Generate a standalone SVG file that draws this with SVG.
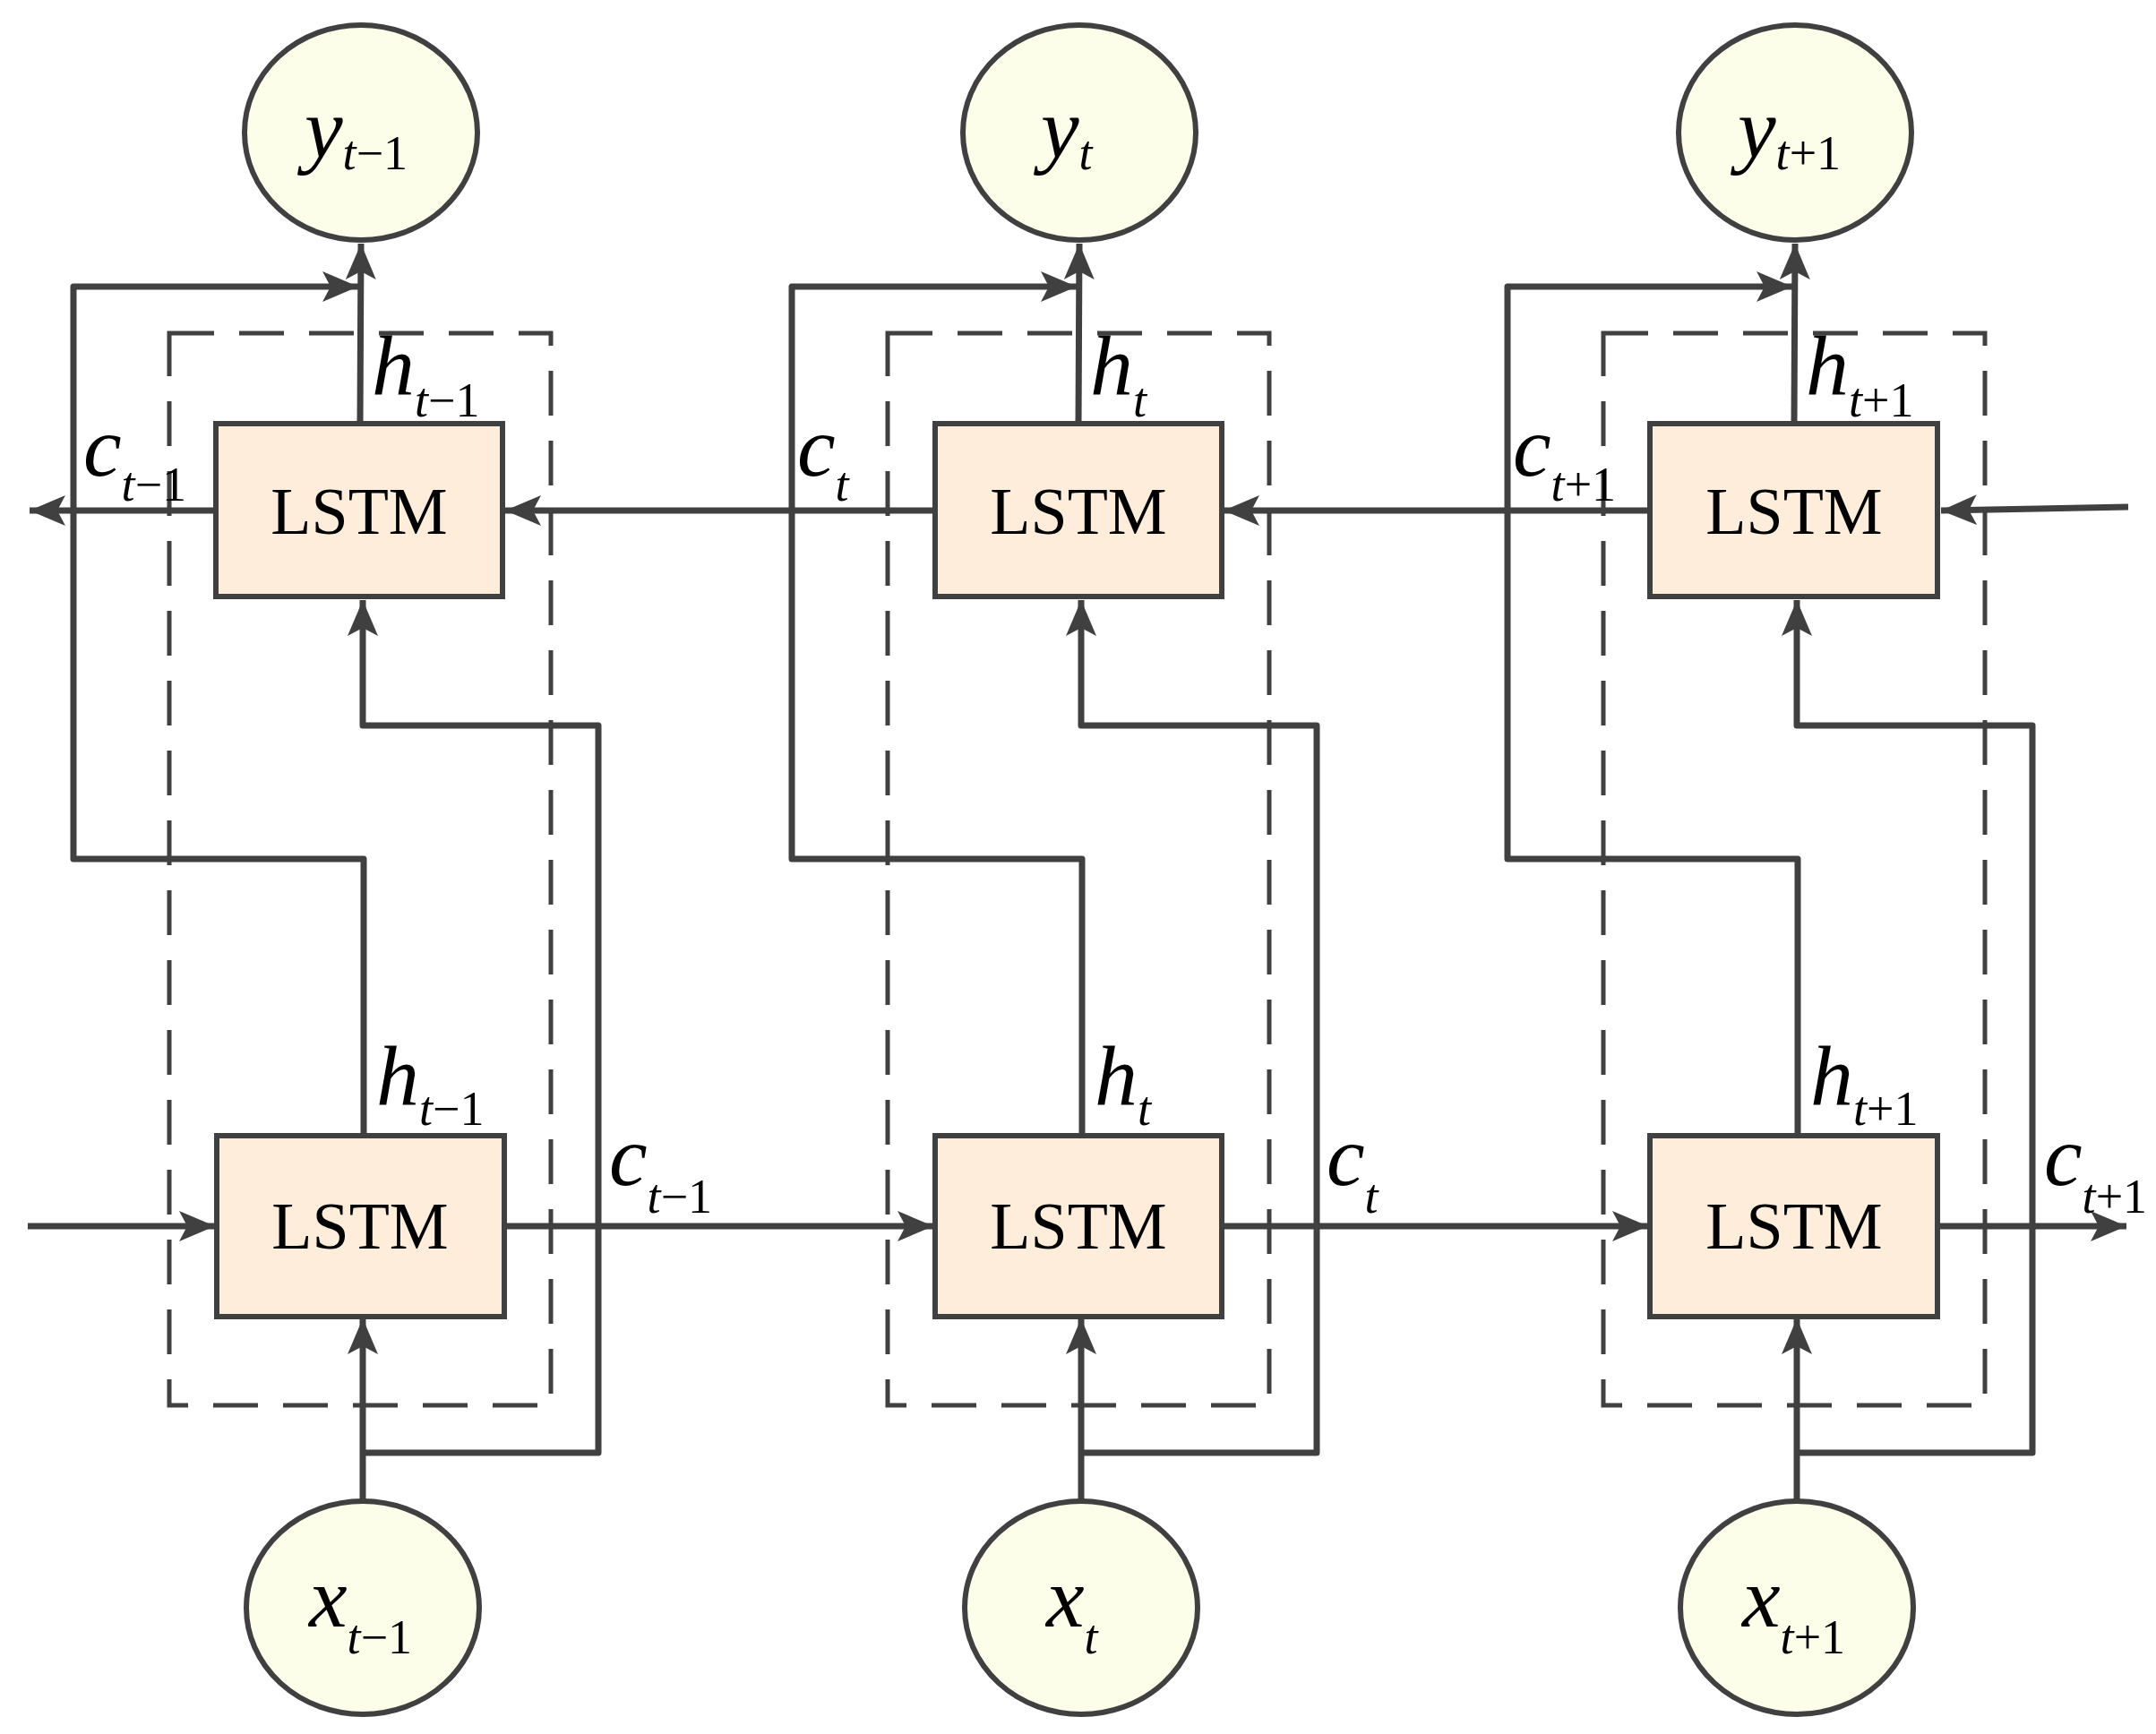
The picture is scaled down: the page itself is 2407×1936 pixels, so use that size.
<svg xmlns="http://www.w3.org/2000/svg" width="2407" height="1936" viewBox="0 0 2407 1936">
<style>
.c{fill:#fcfeea;stroke:#404040;stroke-width:6}
.b{fill:#feeddb;stroke:#404040;stroke-width:6}
.d{fill:none;stroke:#404040;stroke-width:5;stroke-dasharray:50 28}
.l{fill:none;stroke:#404040;stroke-width:7;stroke-linejoin:round}
.a{marker-end:url(#ar)}
text{font-family:"Liberation Serif","Times New Roman",serif;fill:#000}
.v{font-style:italic;font-size:96px}
.s{font-size:54px}
.i{font-style:italic}
.m{font-size:74px;text-anchor:middle}
</style>
<defs>
<marker id="ar" markerUnits="userSpaceOnUse" markerWidth="44" markerHeight="40" refX="40" refY="20" orient="auto">
<path d="M0,3 L40,20 L0,37 L9,20 Z" fill="#404040"/>
</marker>
</defs>
<g id="connectors">
<g id="col1">
<path class="l a" d="M402,473 L403,272"/>
<path class="l a" d="M406,1268 V959 H82 V320 H400"/>
<path class="l a" d="M405,1676 V1472"/>
<path class="l a" d="M405,1622 H668 V810 H405 V670"/>
</g>
<g id="col2" transform="translate(802,0)">
<path class="l a" d="M402,473 L403,272"/>
<path class="l a" d="M406,1268 V959 H82 V320 H400"/>
<path class="l a" d="M405,1676 V1472"/>
<path class="l a" d="M405,1622 H668 V810 H405 V670"/>
</g>
<g id="col3" transform="translate(1601,0)">
<path class="l a" d="M402,473 L403,272"/>
<path class="l a" d="M406,1268 V959 H82 V320 H400"/>
<path class="l a" d="M405,1676 V1472"/>
<path class="l a" d="M405,1622 H668 V810 H405 V670"/>
</g>
<path class="l a" d="M2376,566 L2167,570"/>
<path class="l a" d="M1842,570 H1366"/>
<path class="l a" d="M1044,570 H564"/>
<path class="l a" d="M241,570 H33"/>
<path class="l a" d="M31,1369 H240"/>
<path class="l a" d="M563,1369 H1042"/>
<path class="l a" d="M1365,1369 H1840"/>
<path class="l a" d="M2164,1369 H2374"/>
</g>
<g id="frames">
<rect class="d" x="189" y="372" width="426" height="1197"/>
<rect class="d" x="991" y="372" width="426" height="1197"/>
<rect class="d" x="1790" y="372" width="426" height="1197"/>
</g>
<g id="lstm-top-1"><rect class="b" x="241" y="473" width="320" height="193"/><text class="m" x="401" y="596">LSTM</text></g>
<g id="lstm-top-2"><rect class="b" x="1044" y="473" width="320" height="193"/><text class="m" x="1204" y="596">LSTM</text></g>
<g id="lstm-top-3"><rect class="b" x="1842" y="473" width="321" height="193"/><text class="m" x="2003" y="596">LSTM</text></g>
<g id="lstm-bot-1"><rect class="b" x="242" y="1268" width="321" height="202"/><text class="m" x="402" y="1394">LSTM</text></g>
<g id="lstm-bot-2"><rect class="b" x="1044" y="1268" width="320" height="202"/><text class="m" x="1204" y="1394">LSTM</text></g>
<g id="lstm-bot-3"><rect class="b" x="1842" y="1268" width="321" height="202"/><text class="m" x="2003" y="1394">LSTM</text></g>
<g id="y1"><ellipse class="c" cx="403" cy="148" rx="130" ry="120"/><text x="340" y="176"><tspan class="v">y</tspan><tspan class="s" dy="13"><tspan class="i">t</tspan>−1</tspan></text></g>
<g id="y2"><ellipse class="c" cx="1205" cy="148" rx="130" ry="120"/><text x="1162" y="176"><tspan class="v">y</tspan><tspan class="s i" dy="13">t</tspan></text></g>
<g id="y3"><ellipse class="c" cx="2004" cy="148" rx="130" ry="120"/><text x="1940" y="176"><tspan class="v">y</tspan><tspan class="s" dy="13"><tspan class="i">t</tspan>+1</tspan></text></g>
<g id="x1"><ellipse class="c" cx="405" cy="1795" rx="130" ry="119"/><text x="345" y="1816"><tspan class="v">x</tspan><tspan class="s" dy="30"><tspan class="i">t</tspan>−1</tspan></text></g>
<g id="x2"><ellipse class="c" cx="1207" cy="1795" rx="130" ry="119"/><text x="1168" y="1816"><tspan class="v">x</tspan><tspan class="s i" dy="30">t</tspan></text></g>
<g id="x3"><ellipse class="c" cx="2006" cy="1795" rx="130" ry="119"/><text x="1945" y="1816"><tspan class="v">x</tspan><tspan class="s" dy="30"><tspan class="i">t</tspan>+1</tspan></text></g>
<g id="labels">
<text x="415" y="441"><tspan class="v">h</tspan><tspan class="s" dy="24"><tspan class="i">t</tspan>−1</tspan></text>
<text x="1217" y="441"><tspan class="v">h</tspan><tspan class="s i" dy="24">t</tspan></text>
<text x="2016" y="441"><tspan class="v">h</tspan><tspan class="s" dy="24"><tspan class="i">t</tspan>+1</tspan></text>
<text x="420" y="1234"><tspan class="v">h</tspan><tspan class="s" dy="22"><tspan class="i">t</tspan>−1</tspan></text>
<text x="1222" y="1234"><tspan class="v">h</tspan><tspan class="s i" dy="22">t</tspan></text>
<text x="2021" y="1234"><tspan class="v">h</tspan><tspan class="s" dy="22"><tspan class="i">t</tspan>+1</tspan></text>
<text x="93" y="531"><tspan class="v">c</tspan><tspan class="s" dy="28"><tspan class="i">t</tspan>−1</tspan></text>
<text x="890" y="531"><tspan class="v">c</tspan><tspan class="s i" dy="28">t</tspan></text>
<text x="1689" y="531"><tspan class="v">c</tspan><tspan class="s" dy="28"><tspan class="i">t</tspan>+1</tspan></text>
<text x="680" y="1323"><tspan class="v">c</tspan><tspan class="s" dy="31"><tspan class="i">t</tspan>−1</tspan></text>
<text x="1481" y="1323"><tspan class="v">c</tspan><tspan class="s i" dy="31">t</tspan></text>
<text x="2282" y="1323"><tspan class="v">c</tspan><tspan class="s" dy="31"><tspan class="i">t</tspan>+1</tspan></text>
</g>
</svg>
